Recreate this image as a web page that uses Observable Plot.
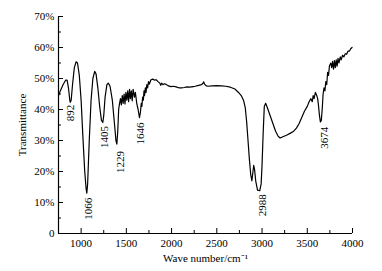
<!DOCTYPE html>
<html><head><meta charset="utf-8">
<script src="https://cdn.jsdelivr.net/npm/d3@7"></script>
<script src="https://cdn.jsdelivr.net/npm/@observablehq/plot@0.6"></script>
<style>
body{margin:0;background:#fff}
#chart svg{font-family:"Liberation Serif","Times New Roman",serif}
</style>
</head><body><div id="chart"></div>
<script>
const wavenumber = [
750,770,800,830,845,860,875,880,890,905,925,945,960,980,1000,1020,1040,1055,1063,1072,1090,1110,1130,1150,1165,1185,1205,1225,1240,1250,1265,1285,1300,1320,1345,1370,1385,1395,1405,1415,1425,1435,
1445,1455,1465,1475,1485,1495,1505,1515,1525,1535,1545,1555,1565,1575,1590,1600,1615,1630,1645,1655,1665,1672,1680,1688,1695,1702,1710,1718,1726,1735,1745,1755,1770,1790,1810,1830,1850,1870,1880,1890,1905,1920,1940,1960,1990,
2020,2050,2080,2110,2140,2170,2200,2240,2260,2300,2330,2345,2355,2365,2380,2400,2450,2500,2550,2600,2650,2700,2740,2770,2795,2815,2830,2845,2860,2875,2888,2898,2908,2918,2930,2950,2975,2990,3000,3012,3025,3040,
3060,3090,3120,3150,3175,3200,3230,3270,3310,3350,3380,3410,3440,3470,3500,3520,3540,3555,3565,3575,3590,3605,3615,3625,3635,3645,3655,3665,3675,3685,3695,3705,3715,3725,3735,3745,3760,3770,3780,3790,3800,3810,3820,3830,3840,3850,3865,3875,3890,3905,3920,3935,3950,3965,3980,3995
];
const transmittance = [
44.5,46,48,49.5,49.5,47,43,42.3,43,48,53.5,55.4,55,51,43,31,20,14.5,13,16,30,43,50,52.3,51.5,47,41,36.5,35.8,38,44,48,48.5,47.5,43,35,30,28.8,33,40,42,43.5,
41.5,44.5,42,45,41.8,45.5,43,46,42.5,46.5,43.5,46,42.8,46.5,44,45.5,42,40,37.4,39,42,41,44,43,46,44.5,47,45.5,48,47,49,48.2,49.5,49.8,49.5,49.6,49,48.5,47.8,48.5,48,48.3,48.1,47.7,47.4,
47.5,47.3,47,47,47.1,47.3,47.2,47.4,47.5,47.8,48,48.4,48.9,48.2,47.7,47.5,47.6,47.7,47.6,47.5,47.2,46.6,45.5,44.5,43,40.5,36,30,24,19,17,19.5,22,20.5,17,14,13.8,16,22,32,41,42,
40.5,38,35.5,33,31.5,30.8,31.2,31.7,32.3,33,34,35.5,37.5,39.5,41,42.5,43.5,42.5,44.5,43.5,45.5,44.5,43.5,41,38,36,36.5,40,45,47,46,49,48,52,51,54,55,53.5,55.5,53,55.8,53.5,56,54,56.5,55,57,56,57.5,57,58,57.8,58.8,58.8,59.6,60
];
const peakLabels = ["892","1066","1405","1229","1646","2988","3674"];
const peakLabelX = [878,1081,1258,1431,1652,3005,3687];
const peakLabelY = [41.5,11.5,34.7,26.6,35.8,12.7,34.4];

const yTicks = [0,10,20,30,40,50,60,70];
const yTickLabels = ["0","10%","20%","30%","40%","50%","60%","70%"];
const yMinorTicks = [5,15,25,35,45,55,65];
const xTicks = [1000,1500,2000,2500,3000,3500,4000];
const xMinorTicks = [1250,1750,2250,2750,3250,3750];

const chart = Plot.plot({
  width: 382,
  height: 271,
  marginLeft: 58,
  marginRight: 30,
  marginTop: 16,
  marginBottom: 38,
  style: {fontFamily: '"Liberation Serif","Times New Roman",serif', fontSize: "11px", color: "black", background: "white"},
  x: {domain: [750, 4000]},
  y: {domain: [0, 70]},
  marks: [
    Plot.ruleX([750], {stroke: "black", strokeWidth: 1.2}),
    Plot.ruleY([0], {stroke: "black", strokeWidth: 1.2}),
    Plot.axisY(yTicks, {tickSize: 0, tickPadding: 4, tickFormat: d => yTickLabels[yTicks.indexOf(d)], label: "Transmittance", labelArrow: "none", labelAnchor: "center", labelOffset: 40, fontSize: 11}),
    Plot.axisY(yTicks, {tickSize: 5, dx: 5, fill: "none", label: null}),
    Plot.axisY(yMinorTicks, {tickSize: 3, dx: 3, fill: "none", label: null}),
    Plot.axisX(xTicks, {tickSize: 0, tickPadding: 6, tickFormat: d => String(d), label: "Wave number/cm\u207B\u00B9", labelArrow: "none", labelAnchor: "center", labelOffset: 28, fontSize: 11}),
    Plot.axisX(xTicks, {tickSize: 5, dy: -5, fill: "none", label: null}),
    Plot.axisX(xMinorTicks, {tickSize: 3, dy: -3, fill: "none", label: null}),
    Plot.line(wavenumber, {x: wavenumber, y: transmittance, stroke: "black", strokeWidth: 1.2}),
    Plot.text(peakLabels, {x: peakLabelX, y: peakLabelY, text: d => d, rotate: -90, textAnchor: "end", lineAnchor: "middle", fontSize: 11, fill: "black"})
  ]
});
chart.querySelectorAll("text").forEach(t => {
  const s = t.textContent;
  const c = s.replace(/\s*[\u2192\u2191\u2190\u2193]\s*/g, "").trim();
  if (c !== s) t.textContent = c;
});
document.getElementById("chart").appendChild(chart);
</script>
</body></html>
